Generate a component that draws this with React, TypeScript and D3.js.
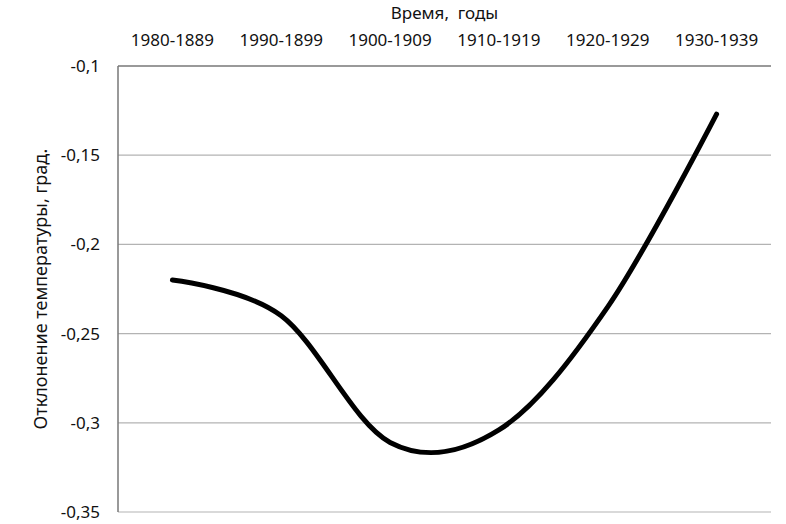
import React from "react";
import * as d3 from "d3";

const categories = ["1980-1889", "1990-1899", "1900-1909", "1910-1919", "1920-1929", "1930-1939"];
const values = [-0.22, -0.24, -0.311, -0.304, -0.235, -0.127];
const yTicks = [-0.1, -0.15, -0.2, -0.25, -0.3, -0.35];
const xTitle = "Время,  годы";
const yTitle = "Отклонение температуры, град.";

const W = 786;
const H = 524;
const M = { left: 118, right: 771, top: 66, bottom: 512 };
const FONT = "'Noto Sans', 'Open Sans', sans-serif";

export default function App() {
  const x = d3.scaleBand<string>().domain(categories).range([M.left, M.right]).padding(0);
  const y = d3.scaleLinear().domain([-0.35, -0.1]).range([M.bottom, M.top]);
  const cx = (c: string) => (x(c) ?? 0) + x.bandwidth() / 2;
  const line = d3
    .line<number>()
    .x((_, i) => cx(categories[i]))
    .y((d) => y(d))
    .curve(d3.curveCardinal.tension(0));
  const fmt = (v: number) => String(+v.toFixed(2)).replace(".", ",");

  return (
    <svg width={W} height={H} style={{ position: "absolute", left: 0, top: 0, background: "#fff" }}>
      <rect x={0} y={0} width={W} height={H} fill="#fff" />
      {yTicks.map((t) => (
        <g key={t}>
          {t !== -0.1 && (
            <line x1={M.left} x2={M.right} y1={y(t)} y2={y(t)} stroke="#b3b3b3" strokeWidth={1.2} />
          )}
          <text
            x={100}
            y={y(t)}
            dy="0.35em"
            textAnchor="end"
            fontFamily={FONT}
            fontSize={17}
            fill="#111"
          >
            {fmt(t)}
          </text>
        </g>
      ))}
      <line x1={M.left} x2={M.right} y1={M.top} y2={M.top} stroke="#777" strokeWidth={1.5} />
      <line x1={M.left} x2={M.left} y1={M.top} y2={M.bottom} stroke="#777" strokeWidth={1.5} />
      {categories.map((c) => (
        <text key={c} x={cx(c)} y={46} textAnchor="middle" fontFamily={FONT} fontSize={17} fill="#111">
          {c}
        </text>
      ))}
      <text
        x={(M.left + M.right) / 2}
        y={19}
        textAnchor="middle"
        fontFamily={FONT}
        fontSize={17}
        fill="#111"
        style={{ whiteSpace: "pre" }}
      >
        {xTitle}
      </text>
      <text
        transform={`translate(47,${(M.top + M.bottom) / 2}) rotate(-90)`}
        textAnchor="middle"
        fontFamily={FONT}
        fontSize={18}
        fill="#111"
      >
        {yTitle}
      </text>
      <path d={line(values) ?? ""} fill="none" stroke="#000" strokeWidth={5} strokeLinecap="round" />
    </svg>
  );
}
